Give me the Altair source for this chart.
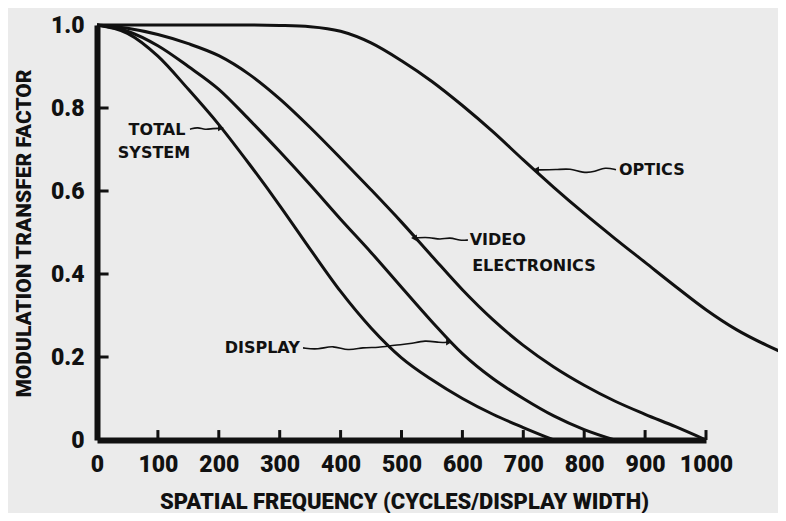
import altair as alt
import pandas as pd

# ---- data ----
freq_total = [0, 50, 100, 150, 200, 250, 300, 350, 400, 450, 500, 550, 600, 650, 700, 750]
mtf_total = [1.0, 0.98, 0.925, 0.845, 0.76, 0.665, 0.565, 0.46, 0.358, 0.27, 0.198, 0.145, 0.1, 0.062, 0.03, 0.0]

freq_display = [0, 50, 100, 150, 200, 250, 300, 350, 400, 450, 500, 550, 600, 650, 700, 750, 800, 850]
mtf_display = [1.0, 0.985, 0.95, 0.9, 0.845, 0.772, 0.695, 0.615, 0.532, 0.452, 0.368, 0.285, 0.208, 0.148, 0.1, 0.058, 0.025, 0.0]

freq_video = [0, 50, 100, 150, 200, 250, 300, 350, 400, 450, 500, 550, 600, 650, 700, 750, 800, 850, 900, 950, 1000]
mtf_video = [1.0, 0.992, 0.977, 0.955, 0.926, 0.881, 0.822, 0.753, 0.679, 0.603, 0.525, 0.443, 0.362, 0.29, 0.228, 0.176, 0.132, 0.094, 0.062, 0.032, 0.0]

freq_optics = [0, 250, 300, 350, 400, 450, 500, 550, 600, 650, 700, 750, 800, 850, 900, 950, 1000, 1050, 1100, 1130]
mtf_optics = [1.0, 1.0, 0.999, 0.996, 0.985, 0.957, 0.914, 0.864, 0.806, 0.743, 0.675, 0.609, 0.546, 0.486, 0.428, 0.37, 0.314, 0.266, 0.228, 0.208]

x_ticks = [0, 100, 200, 300, 400, 500, 600, 700, 800, 900, 1000]
y_ticks = [0, 0.2, 0.4, 0.6, 0.8, 1.0]

# annotation labels (frequency, MTF)
label_text = ["TOTAL", "SYSTEM", "VIDEO", "ELECTRONICS", "OPTICS", "DISPLAY"]
label_f = [98.5, 93.6, 612, 616, 857, 333]
label_v = [0.747, 0.692, 0.482, 0.419, 0.651, 0.222]
label_align = ["center", "center", "left", "left", "left", "right"]

# wavy leader lines
lead_total_f = [152.7, 165.8, 177.3, 190.5, 202.0]
lead_total_v = [0.749, 0.754, 0.747, 0.751, 0.751]
lead_video_f = [609.2, 596.0, 579.6, 563.2, 546.8, 523.8]
lead_video_v = [0.482, 0.480, 0.489, 0.482, 0.489, 0.487]
lead_optics_f = [852.2, 834.2, 817.7, 798.0, 776.7, 755.3, 722.5]
lead_optics_v = [0.651, 0.658, 0.646, 0.643, 0.655, 0.651, 0.651]
lead_display_f = [338.3, 362.9, 387.5, 412.2, 436.8, 461.4, 489.3, 514.0, 538.6, 563.2, 576.4]
lead_display_v = [0.222, 0.217, 0.229, 0.214, 0.224, 0.222, 0.229, 0.231, 0.241, 0.234, 0.236]

arrow_f = [203.6, 520.5, 720.9, 578.0]
arrow_v = [0.752, 0.487, 0.651, 0.236]
arrow_shape = ["triangle-right", "triangle-left", "triangle-left", "triangle-right"]

# ---- tables ----
rows = []
for name, fs, vs in [("TOTAL SYSTEM", freq_total, mtf_total), ("DISPLAY", freq_display, mtf_display),
                     ("VIDEO ELECTRONICS", freq_video, mtf_video), ("OPTICS", freq_optics, mtf_optics)]:
    for f, v in zip(fs, vs):
        rows.append({"series": name, "f": f, "v": v})
curves = pd.DataFrame(rows)

lrows = []
for name, fs, vs in [("t", lead_total_f, lead_total_v), ("v", lead_video_f, lead_video_v),
                     ("o", lead_optics_f, lead_optics_v), ("d", lead_display_f, lead_display_v)]:
    for i, (f, v) in enumerate(zip(fs, vs)):
        lrows.append({"lead": name, "i": i, "f": f, "v": v})
leaders = pd.DataFrame(lrows)

labels = pd.DataFrame({"text": label_text, "f": label_f, "v": label_v, "align": label_align})
arrows = pd.DataFrame({"f": arrow_f, "v": arrow_v, "shape": arrow_shape})
xt = pd.DataFrame({"f": [t for t in x_ticks if t > 0]})
yt = pd.DataFrame({"v": [t for t in y_ticks if 0 < t < 1]})

NARROW = "Roboto, Liberation Sans Narrow, sans-serif"
INK = "#111111"

xscale = alt.Scale(domain=[0, 1000], nice=False)
yscale = alt.Scale(domain=[0, 1], nice=False)

xaxis = alt.Axis(values=x_ticks, format="d", ticks=False, grid=False, domainWidth=6, domainColor=INK,
                 labelFont=NARROW, labelFontSize=23, labelFontWeight=900, labelColor=INK, labelPadding=13,
                 labelFlush=False, labelOverlap=False,
                 title="SPATIAL FREQUENCY (CYCLES/DISPLAY WIDTH)", titleFont=NARROW, titleFontSize=22,
                 titleFontWeight=900, titleColor=INK, titleX=307, titleY=61, titleAnchor="middle",
                 titleAlign="center", titleBaseline="middle")
yaxis = alt.Axis(values=y_ticks, labelExpr="datum.value == 0 ? '0' : format(datum.value, '.1f')",
                 ticks=False, grid=False, domainWidth=6, domainColor=INK,
                 labelFont=NARROW, labelFontSize=23, labelFontWeight=900, labelColor=INK, labelPadding=13,
                 labelFlush=False, labelOverlap=False,
                 title="MODULATION TRANSFER FACTOR", titleFont=NARROW, titleFontSize=21,
                 titleFontWeight=900, titleColor=INK, titleX=-73, titleY=208, titleAngle=270,
                 titleAnchor="middle", titleAlign="center", titleBaseline="middle")

lines = alt.Chart(curves).mark_line(color=INK, strokeWidth=3, interpolate="monotone", clip=False).encode(
    x=alt.X("f:Q", scale=xscale, axis=xaxis),
    y=alt.Y("v:Q", scale=yscale, axis=yaxis),
    detail="series:N",
)

xtick_marks = alt.Chart(xt).mark_rule(color=INK, strokeWidth=3).encode(
    x="f:Q", y=alt.datum(0), y2=alt.datum(0.024)
)
ytick_marks = alt.Chart(yt).mark_rule(color=INK, strokeWidth=3).encode(
    y="v:Q", x=alt.datum(0), x2=alt.datum(19)
)

lead = alt.Chart(leaders).mark_line(color=INK, strokeWidth=1.6, interpolate="basis").encode(
    x="f:Q", y="v:Q", detail="lead:N", order="i:Q"
)
heads = alt.Chart(arrows).mark_point(filled=True, color=INK, size=45, opacity=1).encode(
    x="f:Q", y="v:Q", shape=alt.Shape("shape:N", scale=None)
)

def txt(align):
    return alt.Chart(labels[labels["align"] == align]).mark_text(
        font="DejaVu Sans", fontWeight="bold", fontSize=16, color=INK, align=align, baseline="middle"
    ).encode(x="f:Q", y="v:Q", text="text:N")

chart = alt.layer(
    lines, xtick_marks, ytick_marks, lead, heads, txt("center"), txt("left"), txt("right")
).properties(
    width=609, height=415,
    autosize=alt.AutoSizeParams(type="none"),
    padding={"left": 89, "top": 17, "right": 72, "bottom": 73},
    background="#ebebeb",
).configure_view(stroke=None)

chart.save("out.html", embed_options={"renderer": "svg", "actions": False})
